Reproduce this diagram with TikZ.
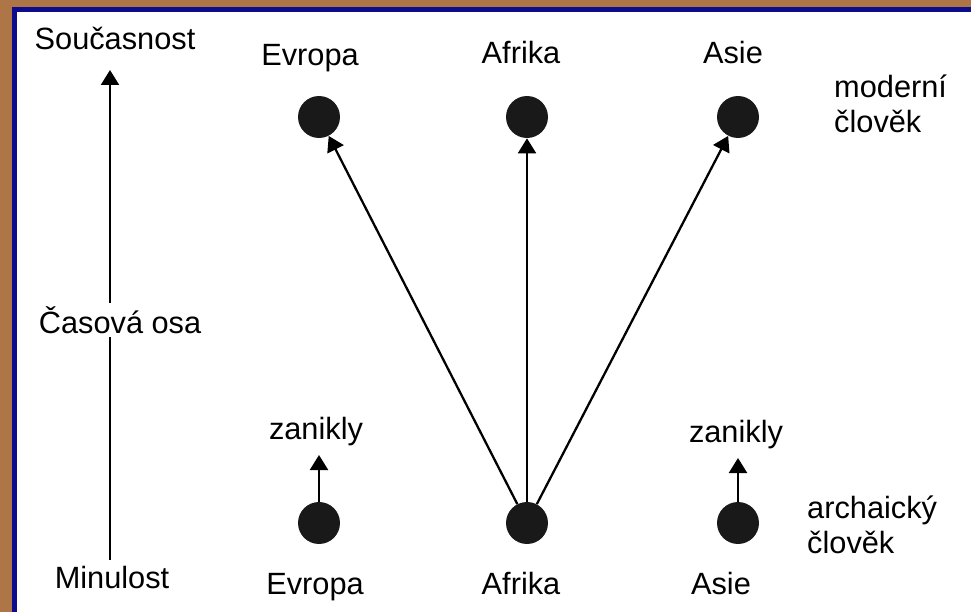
\documentclass[tikz,border=0pt]{standalone}
\usepackage{fontspec}
\setmainfont{Liberation Sans}
\usetikzlibrary{arrows.meta}
\definecolor{parchment}{RGB}{174,118,70}
\definecolor{framebl}{RGB}{12,12,140}
\tikzset{
  dot/.style={circle, fill=black!90, inner sep=0pt, minimum size=0.84cm},
  lbl/.style={anchor=base, inner sep=0pt},
  arr/.style={-{Triangle[length=0.3cm,width=0.36cm]}, line width=1.3pt}
}
\begin{document}
\begin{tikzpicture}[x=0.02cm, y=-0.02cm, font=\fontsize{17.5}{20}\selectfont]
\useasboundingbox (0,0) rectangle (971,612);
\fill[white]     (0,0) rectangle (971,612);
\fill[parchment] (0,0) rectangle (971,7);
\fill[parchment] (0,0) rectangle (12,612);
\fill[framebl]   (12,7) rectangle (971,12);
\fill[framebl]   (12,7) rectangle (17,612);

% time axis
\coordinate (past) at (110,560);
\coordinate (now)  at (110,70);
\draw[arr] (past) -- (now);
\node[lbl] (soucasnost) at (115,50)  {Současnost};
\node[lbl] (minulost)   at (112,588) {Minulost};
\node[anchor=base west, fill=white, inner sep=2pt] (osa) at (35,333) {Časová osa};

% modern humans
\node[dot] (ev1) at (319,117) {};
\node[dot] (af1) at (527,117) {};
\node[dot] (as1) at (738,117) {};
\node[lbl] (evt1) at (310,65) {Evropa};
\node[lbl] (aft1) at (521,63) {Afrika};
\node[lbl] (ast1) at (733,63) {Asie};
\node[anchor=west, align=left] (modern) at (828,104) {moderní\\člověk};

% archaic humans
\node[dot] (ev0) at (319,523) {};
\node[dot] (af0) at (527,523) {};
\node[dot] (as0) at (738,523) {};
\node[lbl] (evt0) at (315,594) {Evropa};
\node[lbl] (aft0) at (521,594) {Afrika};
\node[lbl] (ast0) at (721,594) {Asie};
\node[anchor=west, align=left] (archaic) at (801,525) {archaický\\člověk};

% extinct lines
\node[lbl] (zan1) at (316,439) {zanikly};
\node[lbl] (zan2) at (736,442) {zanikly};
\coordinate (ev0up) at (319,455);
\coordinate (as0up) at (738,458);
\draw[arr] (ev0) -- (ev0up);
\draw[arr] (as0) -- (as0up);

% out of Africa
\draw[arr] (af0) -- (ev1);
\draw[arr] (af0) -- (af1);
\draw[arr] (af0) -- (as1);
\end{tikzpicture}
\end{document}
